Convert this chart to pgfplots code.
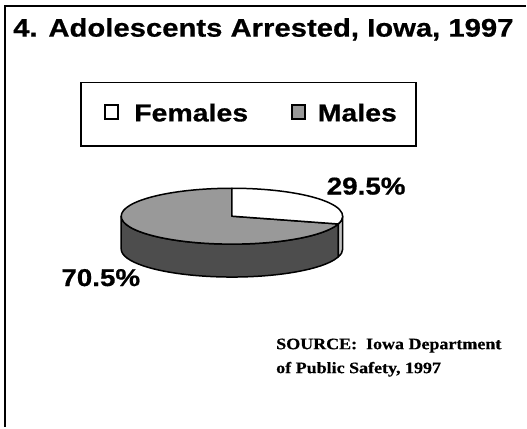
\documentclass[border=0pt]{standalone}
\usepackage{fontspec}
\setmainfont{Liberation Sans}[BoldFeatures={FakeBold=0.6}]
\newfontfamily\srcfont{Liberation Serif}[BoldFeatures={FakeBold=0.4}]
\usepackage{pgfplots}
\usepackage{pgfplotstable}
\pgfplotsset{compat=1.18}
\definecolor{maletop}{HTML}{999999}
\definecolor{maleside}{HTML}{4D4D4D}
\definecolor{femside}{HTML}{C0C0C0}
\pgfplotstableread{
label value
Females 29.5
Males 70.5
}\piedata
\begin{document}
\begin{tikzpicture}
\pgfplotstablegetelem{0}{value}\of\piedata
\pgfmathsetmacro{\fval}{\pgfplotsretval}
\pgfplotstablegetelem{1}{value}\of\piedata
\pgfmathsetmacro{\mval}{\pgfplotsretval}
% Females wedge runs clockwise from 12 o'clock
\pgfmathsetmacro{\fang}{90-3.6*\fval}
\pgfmathsetmacro{\fangp}{\fang+360}
\def\cx{232.5}
\def\cy{211.3}
\def\rx{111}
\def\ry{28}
\pgfmathsetmacro{\cyb}{\cy-33}
\begin{axis}[
  width=527bp, height=428bp, scale only axis,
  xmin=0, xmax=527, ymin=0, ymax=428,
  hide axis, clip=false,
]
\path (axis cs:0,0) rectangle (axis cs:527,428);
% frame
\draw[line width=2.5bp] (axis cs:5,0) -- (axis cs:5,422) -- (axis cs:527,422);
% title
\node[anchor=base, inner sep=0pt] at (axis cs:264,391.3)
  {\scalebox{1.15}[1]{\fontsize{25.6}{30}\selectfont\bfseries 4. Adolescents Arrested, Iowa, 1997}};
% legend
\draw[line width=2bp] (axis cs:80.7,345.3) rectangle (axis cs:417,281.3);
\draw[line width=1.8bp, fill=white] (axis cs:105.5,322.5) rectangle (axis cs:118.5,308.5);
\draw[line width=1.8bp, fill=maletop] (axis cs:292.5,322.5) rectangle (axis cs:305.5,308.5);
\node[anchor=base west, inner sep=0pt] at (axis cs:134.3,306.3)
  {\scalebox{1.16}[1]{\fontsize{24.7}{30}\selectfont\bfseries Females}};
\node[anchor=base west, inner sep=0pt] at (axis cs:318.3,306.3)
  {\scalebox{1.16}[1]{\fontsize{24.7}{30}\selectfont\bfseries Males}};
% pie sides
\filldraw[fill=maleside, line width=1.5bp, line join=round]
  (axis cs:{\cx-\rx},\cy)
  arc[start angle=180, end angle=\fangp, x radius=\rx, y radius=\ry]
  -- (axis cs:{\cx+\rx*cos(\fang)},{\cyb+\ry*sin(\fang)})
  arc[start angle=\fangp, end angle=180, x radius=\rx, y radius=\ry]
  -- cycle;
\filldraw[fill=femside, line width=1.5bp, line join=round]
  (axis cs:{\cx+\rx*cos(\fang)},{\cy+\ry*sin(\fang)})
  arc[start angle=\fang, end angle=0, x radius=\rx, y radius=\ry]
  -- (axis cs:{\cx+\rx},\cyb)
  arc[start angle=0, end angle=\fang, x radius=\rx, y radius=\ry]
  -- cycle;
% pie top
\filldraw[fill=maletop, line width=1.5bp, line join=round]
  (axis cs:\cx,\cy) -- (axis cs:\cx,{\cy+\ry})
  arc[start angle=90, end angle=\fangp, x radius=\rx, y radius=\ry] -- cycle;
\filldraw[fill=white, line width=1.5bp, line join=round]
  (axis cs:\cx,\cy) -- (axis cs:{\cx+\rx*cos(\fang)},{\cy+\ry*sin(\fang)})
  arc[start angle=\fang, end angle=90, x radius=\rx, y radius=\ry] -- cycle;
% data labels
\node[anchor=base, inner sep=0pt] at (axis cs:367,233)
  {\scalebox{1.14}[1]{\fontsize{24.5}{30}\selectfont\bfseries \pgfmathprintnumber[assume math mode=true,fixed,precision=1,fixed zerofill]{\fval}\%}};
\node[anchor=base, inner sep=0pt] at (axis cs:101,141.3)
  {\scalebox{1.14}[1]{\fontsize{24.5}{30}\selectfont\bfseries \pgfmathprintnumber[assume math mode=true,fixed,precision=1,fixed zerofill]{\mval}\%}};
% source
\node[anchor=base west, inner sep=0pt] at (axis cs:276.7,78)
  {\scalebox{1.13}[1]{\srcfont\fontsize{16}{24}\selectfont\bfseries SOURCE:\ \ Iowa Department}};
\node[anchor=base west, inner sep=0pt] at (axis cs:276.7,54)
  {\scalebox{1.13}[1]{\srcfont\fontsize{16}{24}\selectfont\bfseries of Public Safety, 1997}};
\end{axis}
\end{tikzpicture}
\end{document}
